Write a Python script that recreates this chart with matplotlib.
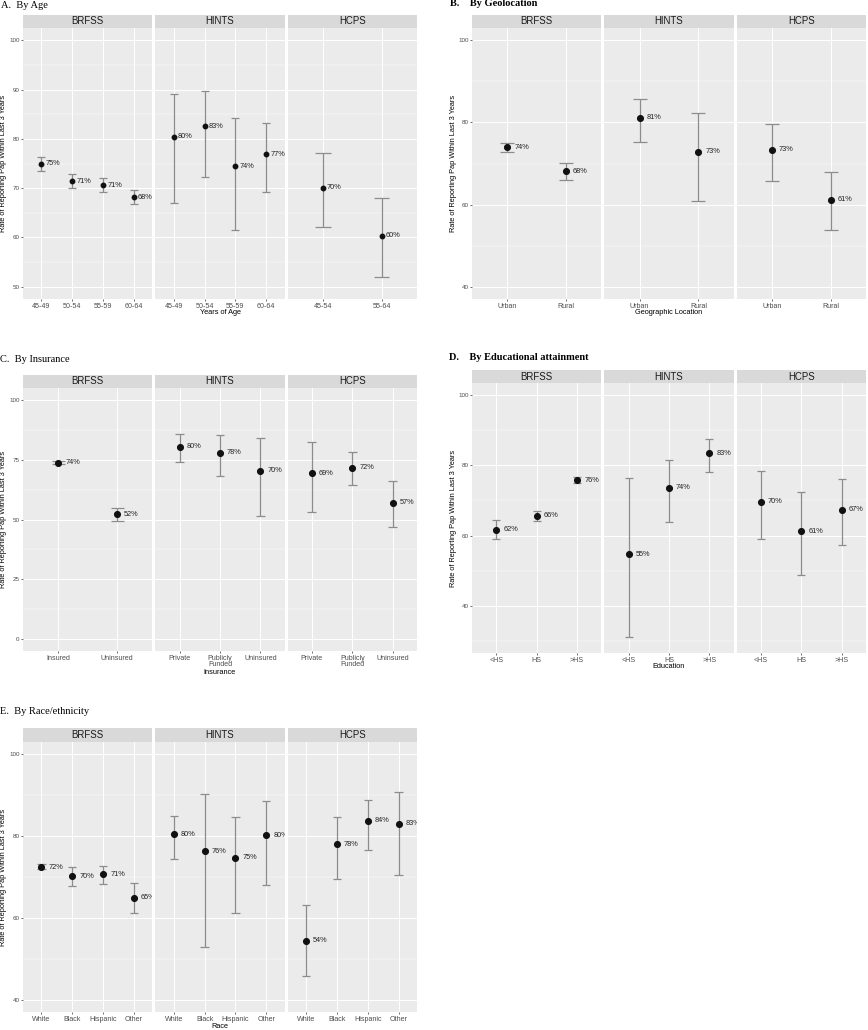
import numpy as np
import matplotlib
matplotlib.use("Agg")
import matplotlib.pyplot as plt
from matplotlib.transforms import offset_copy

# survey facets
surveys = ['BRFSS', 'HINTS', 'HCPS']

# A. by age
age_cats = [['45-49', '50-54', '55-59', '60-64'],
            ['45-49', '50-54', '55-59', '60-64'],
            ['45-54', '55-64']]
age_est = [[74.9, 71.4, 70.6, 68.2], [80.4, 82.6, 74.4, 76.9], [70.1, 60.3]]
age_lo = [[73.4, 70.1, 69.3, 66.8], [67.0, 72.2, 61.6, 69.3], [62.2, 52.0]]
age_hi = [[76.4, 72.9, 72.0, 69.6], [89.2, 89.7, 84.2, 83.2], [77.2, 67.9]]

# B. by geolocation
geo_cats = [['Urban', 'Rural'], ['Urban', 'Rural'], ['Urban', 'Rural']]
geo_est = [[73.9, 68.1], [81.1, 72.9], [73.3, 61.2]]
geo_lo = [[72.9, 66.0], [75.3, 60.8], [65.7, 53.9]]
geo_hi = [[74.9, 70.2], [85.7, 82.3], [79.6, 67.9]]

# C. by insurance
ins_cats = [['Insured', 'Uninsured'],
            ['Private', 'Publicly\nFunded', 'Uninsured'],
            ['Private', 'Publicly\nFunded', 'Uninsured']]
ins_est = [[73.7, 52.1], [80.4, 77.9, 70.4], [69.4, 71.6, 57.0]]
ins_lo = [[73.2, 49.2], [73.9, 68.2, 51.4], [53.1, 64.4, 46.9]]
ins_hi = [[74.3, 54.9], [85.9, 85.2, 84.2], [82.3, 78.1, 66.3]]

# D. by education
edu_cats = [['<HS', 'HS', '>HS'], ['<HS', 'HS', '>HS'], ['<HS', 'HS', '>HS']]
edu_est = [[61.7, 65.6, 75.8], [54.7, 73.6, 83.4], [69.6, 61.2, 67.4]]
edu_lo = [[59.0, 64.2, 74.9], [31.0, 64.0, 78.2], [59.0, 48.7, 57.3]]
edu_hi = [[64.3, 67.1, 76.7], [76.4, 81.4, 87.6], [78.4, 72.4, 76.0]]

# E. by race
race_cats = [['White', 'Black', 'Hispanic', 'Other']] * 3
race_est = [[72.4, 70.2, 70.7, 64.9], [80.4, 76.3, 74.7, 80.2], [54.4, 78.0, 83.7, 83.0]]
race_lo = [[71.9, 67.9, 68.4, 61.1], [74.5, 52.8, 61.3, 68.0], [45.9, 69.4, 76.5, 70.5]]
race_hi = [[73.3, 72.4, 72.8, 68.6], [85.0, 90.2, 84.6, 88.5], [63.1, 84.6, 88.9, 90.9]]

W, H = 868, 1030
fig = plt.figure(figsize=(W / 100, H / 100), dpi=100)
sans = ['Liberation Sans', 'DejaVu Sans']
serif = ['Liberation Serif', 'DejaVu Serif']
ylab = 'Rate of Reporting Pap Within Last 3 Years'


def px_axes(x0, y0, x1, y1):
    return fig.add_axes([x0 / W, 1 - y1 / H, (x1 - x0) / W, (y1 - y0) / H])


def panel(box, cats, est, lo, hi, ylim, major, minor, xtitle,
          msize=4.1, lab_off=7, capw=0.25):
    x0, x1, st, sb, pb = box
    gap = 3
    fw = (x1 - x0 - 2 * gap) / 3
    for i in range(3):
        fx0 = x0 + i * (fw + gap)
        fx1 = fx0 + fw
        # strip
        sax = px_axes(fx0, st, fx1, sb)
        sax.set_facecolor('#D9D9D9')
        sax.set_xticks([])
        sax.set_yticks([])
        for s in sax.spines.values():
            s.set_visible(False)
        sax.text(0.5, 0.5, surveys[i], ha='center', va='center',
                 fontsize=6.9, color='#1A1A1A', family=sans,
                 transform=sax.transAxes)

        ax = px_axes(fx0, sb, fx1, pb)
        ax.set_facecolor('#EBEBEB')
        n = len(cats[i])
        x = np.arange(1, n + 1)
        ax.set_xlim(0.4, n + 0.6)
        ax.set_ylim(*ylim)
        ax.set_xticks(x)
        ax.set_xticklabels(cats[i], fontsize=5.1, color='#4D4D4D',
                           family=sans, linespacing=0.95)
        ax.set_yticks(major)
        ax.set_yticks(minor, minor=True)
        ax.grid(True, which='major', color='white', lw=0.7)
        ax.grid(True, which='minor', axis='y', color='white', lw=0.35)
        ax.set_axisbelow(True)
        for s in ax.spines.values():
            s.set_visible(False)
        ax.tick_params(axis='x', length=1.5, width=0.5, color='#333333', pad=1.2)
        ax.tick_params(axis='y', which='major', length=1.5, width=0.5,
                       color='#333333', pad=1)
        ax.tick_params(axis='y', which='minor', length=0)
        if i == 0:
            ax.set_yticklabels([f'{m:g}' for m in major], fontsize=4.5,
                               color='#4D4D4D', family=sans)
        else:
            ax.tick_params(axis='y', which='major', length=0, labelleft=False)

        e = np.array(est[i])
        l = np.array(lo[i])
        h = np.array(hi[i])
        ax.vlines(x, l, h, color='#8C8C8C', lw=0.9, zorder=2)
        ax.hlines(l, x - capw / 2, x + capw / 2, color='#8C8C8C', lw=0.9, zorder=2)
        ax.hlines(h, x - capw / 2, x + capw / 2, color='#8C8C8C', lw=0.9, zorder=2)
        ax.plot(x, e, 'o', color='#111111', ms=msize, zorder=3)
        tr = offset_copy(ax.transData, fig=fig, x=lab_off, y=0, units='dots')
        for xi, v in zip(x, e):
            ax.text(xi, v, f'{v:.0f}%', transform=tr, ha='left', va='center',
                    fontsize=5.3, color='#222222', family=sans, clip_on=True)

    # axis titles
    two_line = any('\n' in c for c in sum(cats, []))
    fig.text((x0 - 19) / W, 1 - (sb + pb) / 2 / H, ylab, rotation=90,
             ha='center', va='center', fontsize=5.3, family=sans)
    fig.text((x0 + x1) / 2 / W, 1 - (pb + 14 + (7 if two_line else 0)) / H,
             xtitle, ha='center', va='center', fontsize=5.3, family=sans)


panel((23, 417, 15, 28, 299), age_cats, age_est, age_lo, age_hi,
      (47.5, 102.5), [50, 60, 70, 80, 90, 100], [55, 65, 75, 85, 95],
      'Years of Age', msize=3.2, lab_off=4, capw=0.26)
panel((472, 866, 15, 28, 299), geo_cats, geo_est, geo_lo, geo_hi,
      (37, 103), [40, 60, 80, 100], [50, 70, 90],
      'Geographic Location', capw=0.24)
panel((23, 417, 375, 388, 651), ins_cats, ins_est, ins_lo, ins_hi,
      (-5, 105), [0, 25, 50, 75, 100], [12.5, 37.5, 62.5, 87.5],
      'Insurance', capw=0.22)
panel((472, 866, 370, 383, 653), edu_cats, edu_est, edu_lo, edu_hi,
      (26.5, 103.5), [40, 60, 80, 100], [30, 50, 70, 90],
      'Education', capw=0.2)
panel((23, 417, 728, 742, 1012), race_cats, race_est, race_lo, race_hi,
      (37, 103), [40, 60, 80, 100], [50, 70, 90],
      'Race', capw=0.27)

# panel titles
fig.text(1 / W, 1 - 5 / H, 'A.  By Age', ha='left', va='center',
         fontsize=7.5, family=serif)
fig.text(450 / W, 1 - 4 / H, 'B.    By Geolocation', ha='left', va='center',
         fontsize=7.5, family=serif, fontweight='bold')
fig.text(0 / W, 1 - 359 / H, 'C.  By Insurance', ha='left', va='center',
         fontsize=7.5, family=serif)
fig.text(449 / W, 1 - 358 / H, 'D.    By Educational attainment', ha='left',
         va='center', fontsize=7.5, family=serif, fontweight='bold')
fig.text(0 / W, 1 - 712 / H, 'E.  By Race/ethnicity', ha='left', va='center',
         fontsize=7.5, family=serif)

fig.savefig('out.png', dpi=100, facecolor='white')
